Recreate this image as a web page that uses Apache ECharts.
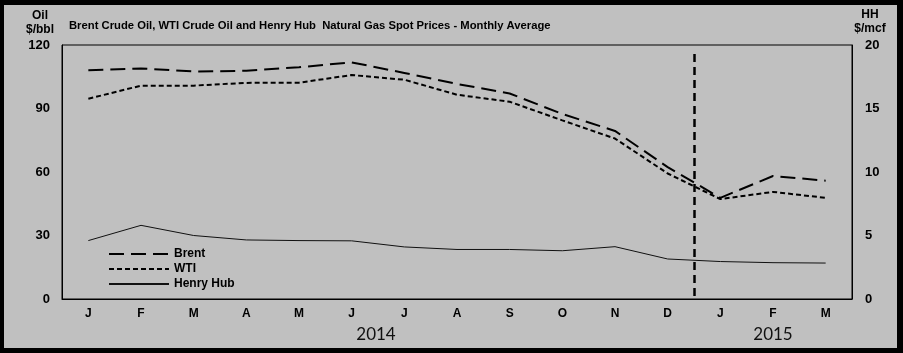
<!DOCTYPE html>
<html><head><meta charset="utf-8">
<script src="https://cdn.jsdelivr.net/npm/echarts@6/dist/echarts.min.js"></script>
<style>
html,body{margin:0;padding:0;background:#c0c0c0;}
#c{position:absolute;left:0;top:0;width:903px;height:353px;}
#frame{position:absolute;left:0;top:0;width:903px;height:353px;box-sizing:border-box;border-style:solid;border-color:#000;border-width:5px 6px 5px 4px;pointer-events:none;}
</style></head>
<body>
<div id="c"></div><div id="frame"></div>
<script>
const months = ['J','F','M','A','M','J','J','A','S','O','N','D','J','F','M'];
const brent = [108.1,108.9,107.5,107.8,109.5,111.8,106.8,101.6,97.1,87.4,79.4,62.3,47.8,58.1,55.9];
const wti   = [94.6,100.8,100.8,102.1,102.2,105.8,103.6,96.5,93.2,84.4,75.8,59.3,47.2,50.6,47.8];
const henryHub = [4.6,5.8,5.0,4.65,4.6,4.58,4.1,3.9,3.9,3.8,4.12,3.15,2.95,2.86,2.83];
const oilTicks = [0,30,60,90,120];
const hhTicks = [0,5,10,15,20];
const yearDivider = 12;      // position between Dec 2014 and Jan 2015 (in category units)
const dividerSpan = [1.4, 117.6];
const years = ['2014','2015'];
const title = 'Brent Crude Oil, WTI Crude Oil and Henry Hub  Natural Gas Spot Prices - Monthly Average';

const chart = echarts.init(document.getElementById('c'), null, {renderer:'canvas'});
const F = 'Liberation Sans, Arial, sans-serif';
chart.setOption({
  backgroundColor:'#c0c0c0',
  animation:false,
  textStyle:{fontFamily:F},
  grid:{left:62, right:51, top:45, bottom:54, show:true, borderColor:'#000', borderWidth:1, backgroundColor:'transparent'},
  legend:{
    orient:'vertical', left:103, top:243, itemWidth:60, itemHeight:10, itemGap:3,
    data:['Brent','WTI','Henry Hub'],
    itemStyle:{opacity:0},
    textStyle:{fontFamily:F, fontWeight:'bold', fontSize:12, color:'#000'},
  },
  xAxis:[
    {type:'category', data:months, boundaryGap:true,
     axisLine:{show:true, lineStyle:{color:'#000'}}, axisTick:{show:false},
     axisLabel:{margin:9, fontFamily:F, fontWeight:'bold', fontSize:12, color:'#000'}},
    {type:'value', min:0, max:months.length, show:false}
  ],
  yAxis:[
    {type:'value', min:oilTicks[0], max:oilTicks[oilTicks.length-1], interval:30,
     axisLine:{show:true, lineStyle:{color:'#000'}}, axisTick:{show:false}, splitLine:{show:false},
     axisLabel:{margin:12, fontFamily:F, fontWeight:'bold', fontSize:13, color:'#000'}},
    {type:'value', min:hhTicks[0], max:hhTicks[hhTicks.length-1], interval:5,
     axisLine:{show:true, lineStyle:{color:'#000'}}, axisTick:{show:false}, splitLine:{show:false},
     axisLabel:{margin:13, fontFamily:F, fontWeight:'bold', fontSize:13, color:'#000'}}
  ],
  graphic:[
    {type:'text', left:69, top:20, style:{text:title, font:'bold 11.25px '+F, fill:'#000'}},
    {type:'text', x:40, y:9, style:{text:'Oil\n$/bbl', font:'bold 12px '+F, fill:'#000', align:'center', lineHeight:14}},
    {type:'text', x:870, y:8, style:{text:'HH\n$/mcf', font:'bold 12px '+F, fill:'#000', align:'center', lineHeight:14}},
    {type:'text', x:376, y:326, style:{text:years[0], font:'17px Lato, sans-serif', fill:'#111', align:'center'}},
    {type:'text', x:773, y:326, style:{text:years[1], font:'17px Lato, sans-serif', fill:'#111', align:'center'}}
  ],
  series:[
    {name:'Brent', type:'line', data:brent, symbol:'none', xAxisIndex:0, yAxisIndex:0,
     lineStyle:{color:'#000', width:2, type:[15,7]}, itemStyle:{color:'#000'}},
    {name:'WTI', type:'line', data:wti, symbol:'none', xAxisIndex:0, yAxisIndex:0,
     lineStyle:{color:'#000', width:2, type:[5,3]}, itemStyle:{color:'#000'}},
    {name:'Henry Hub', type:'line', data:henryHub, symbol:'none', xAxisIndex:0, yAxisIndex:1,
     lineStyle:{color:'#111', width:1}, itemStyle:{color:'#111'}},
    {name:'divider', type:'line', data:[], xAxisIndex:1, yAxisIndex:0, silent:true,
     markLine:{symbol:'none', silent:true, label:{show:false},
       lineStyle:{color:'#000', width:2.5, type:[8,5]},
       data:[[{coord:[yearDivider, dividerSpan[0]]},{coord:[yearDivider, dividerSpan[1]]}]]}}
  ]
});
</script>
</body></html>
